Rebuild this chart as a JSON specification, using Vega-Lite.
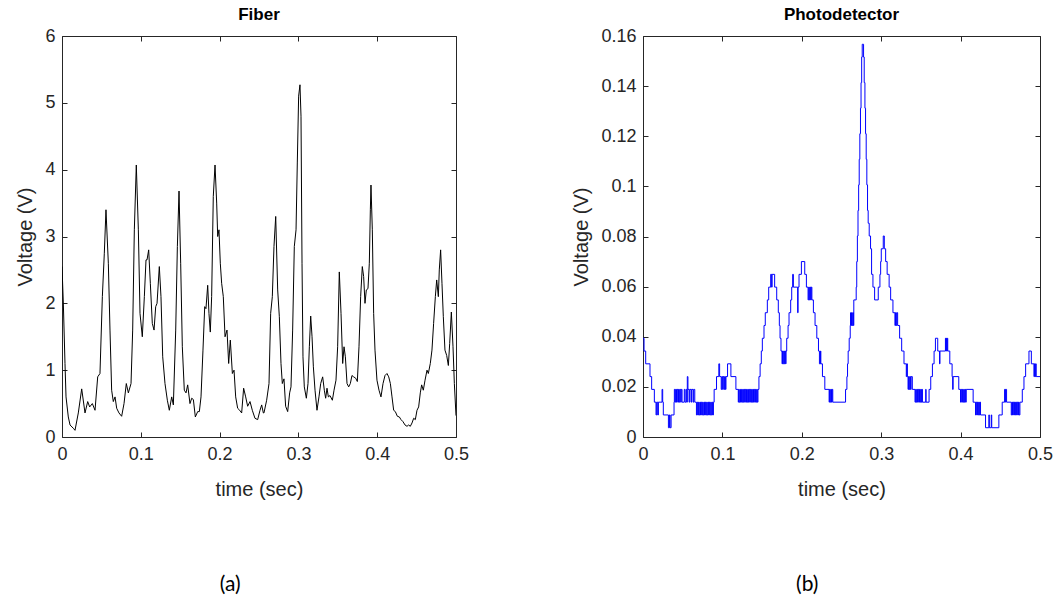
{
  "$schema": "https://vega.github.io/schema/vega-lite/v6.json",
  "background": "white",
  "padding": {"left": 15, "top": 6, "right": 5, "bottom": 5},
  "spacing": 102,
  "config": {
    "view": {"stroke": null},
    "axis": {
      "grid": false,
      "domainColor": "#262626",
      "tickColor": "#262626",
      "labelColor": "#262626",
      "titleColor": "#262626",
      "labelFont": "Liberation Sans",
      "titleFont": "Liberation Sans",
      "labelFontSize": 18,
      "titleFontSize": 20,
      "titleFontWeight": "normal",
      "tickSize": -5,
      "labelPadding": 12,
      "labelFlush": false,
      "labelOverlap": false
    },
    "title": {"font": "Liberation Sans", "fontSize": 16, "fontWeight": "bold", "color": "#000000"}
  },
  "datasets": {
    "fiber": [
      {"t":0,"v":2.55},{"t":0.0017,"v":2.0},{"t":0.0038,"v":1.1},{"t":0.0051,"v":0.6},{"t":0.008,"v":0.3},{"t":0.0102,"v":0.18},{"t":0.0144,"v":0.13},{"t":0.0165,"v":0.1},{"t":0.0207,"v":0.36},{"t":0.025,"v":0.72},{"t":0.0292,"v":0.36},{"t":0.0326,"v":0.53},{"t":0.0351,"v":0.45},{"t":0.0385,"v":0.5},{"t":0.0419,"v":0.4},{"t":0.0453,"v":0.9},{"t":0.0482,"v":0.95},{"t":0.0512,"v":2.1},{"t":0.0537,"v":2.75},{"t":0.0558,"v":3.4},{"t":0.0588,"v":2.6},{"t":0.0609,"v":1.6},{"t":0.063,"v":0.7},{"t":0.0651,"v":0.53},{"t":0.0673,"v":0.6},{"t":0.0694,"v":0.43},{"t":0.0723,"v":0.36},{"t":0.0757,"v":0.31},{"t":0.0787,"v":0.5},{"t":0.0816,"v":0.8},{"t":0.0842,"v":0.66},{"t":0.0876,"v":0.8},{"t":0.0897,"v":1.6},{"t":0.0918,"v":3.1},{"t":0.0943,"v":4.07},{"t":0.0969,"v":3.1},{"t":0.099,"v":1.85},{"t":0.1019,"v":1.5},{"t":0.1045,"v":2.1},{"t":0.1066,"v":2.65},{"t":0.1079,"v":2.65},{"t":0.11,"v":2.8},{"t":0.1121,"v":2.3},{"t":0.1146,"v":1.7},{"t":0.1168,"v":1.6},{"t":0.1189,"v":1.95},{"t":0.1206,"v":2.0},{"t":0.1235,"v":2.55},{"t":0.1256,"v":2.1},{"t":0.1278,"v":1.2},{"t":0.1307,"v":0.8},{"t":0.1337,"v":0.55},{"t":0.1362,"v":0.4},{"t":0.1392,"v":0.6},{"t":0.1413,"v":0.48},{"t":0.1443,"v":1.6},{"t":0.1464,"v":2.85},{"t":0.1485,"v":3.68},{"t":0.1506,"v":2.6},{"t":0.1527,"v":1.35},{"t":0.1552,"v":0.7},{"t":0.1574,"v":0.66},{"t":0.1595,"v":0.78},{"t":0.1624,"v":0.5},{"t":0.1646,"v":0.58},{"t":0.1667,"v":0.56},{"t":0.1692,"v":0.3},{"t":0.1722,"v":0.38},{"t":0.1743,"v":0.38},{"t":0.1764,"v":0.6},{"t":0.1789,"v":1.3},{"t":0.1811,"v":1.95},{"t":0.1827,"v":1.92},{"t":0.1849,"v":2.27},{"t":0.1865,"v":1.85},{"t":0.1882,"v":1.57},{"t":0.1899,"v":2.1},{"t":0.192,"v":3.6},{"t":0.1942,"v":4.07},{"t":0.1963,"v":3.5},{"t":0.1976,"v":3.0},{"t":0.1992,"v":3.1},{"t":0.2009,"v":2.6},{"t":0.2026,"v":2.3},{"t":0.2047,"v":2.1},{"t":0.2069,"v":1.5},{"t":0.2094,"v":1.6},{"t":0.2115,"v":1.1},{"t":0.2136,"v":1.45},{"t":0.2162,"v":0.95},{"t":0.2183,"v":1.0},{"t":0.2204,"v":0.6},{"t":0.2229,"v":0.43},{"t":0.2255,"v":0.4},{"t":0.228,"v":0.36},{"t":0.2305,"v":0.73},{"t":0.2331,"v":0.6},{"t":0.2356,"v":0.46},{"t":0.2386,"v":0.53},{"t":0.2415,"v":0.4},{"t":0.2449,"v":0.28},{"t":0.2483,"v":0.26},{"t":0.2513,"v":0.4},{"t":0.2534,"v":0.48},{"t":0.2555,"v":0.36},{"t":0.2563,"v":0.36},{"t":0.2597,"v":0.55},{"t":0.2627,"v":0.8},{"t":0.2648,"v":1.85},{"t":0.2669,"v":2.1},{"t":0.269,"v":2.85},{"t":0.2712,"v":3.3},{"t":0.2737,"v":2.2},{"t":0.2758,"v":1.8},{"t":0.2779,"v":1.1},{"t":0.2796,"v":0.8},{"t":0.2817,"v":0.87},{"t":0.2838,"v":0.46},{"t":0.2864,"v":0.38},{"t":0.2889,"v":0.66},{"t":0.2906,"v":0.75},{"t":0.2927,"v":1.6},{"t":0.2948,"v":2.85},{"t":0.297,"v":3.1},{"t":0.2986,"v":4.1},{"t":0.3003,"v":5.1},{"t":0.302,"v":5.27},{"t":0.3033,"v":4.8},{"t":0.3046,"v":2.6},{"t":0.3058,"v":1.2},{"t":0.3075,"v":0.75},{"t":0.3101,"v":0.58},{"t":0.3122,"v":0.8},{"t":0.3139,"v":1.35},{"t":0.3156,"v":1.81},{"t":0.3173,"v":1.5},{"t":0.319,"v":1.05},{"t":0.3211,"v":0.7},{"t":0.3236,"v":0.4},{"t":0.3261,"v":0.6},{"t":0.3283,"v":0.8},{"t":0.3308,"v":0.9},{"t":0.3329,"v":0.7},{"t":0.3346,"v":0.58},{"t":0.3363,"v":0.73},{"t":0.338,"v":0.6},{"t":0.3401,"v":0.62},{"t":0.3431,"v":0.55},{"t":0.3452,"v":0.7},{"t":0.3477,"v":0.85},{"t":0.3498,"v":1.35},{"t":0.3519,"v":2.47},{"t":0.3541,"v":1.85},{"t":0.3562,"v":1.1},{"t":0.3579,"v":1.35},{"t":0.3596,"v":1.2},{"t":0.3617,"v":0.8},{"t":0.3638,"v":0.75},{"t":0.3659,"v":0.8},{"t":0.368,"v":0.92},{"t":0.3701,"v":0.9},{"t":0.3727,"v":0.88},{"t":0.3748,"v":0.83},{"t":0.3769,"v":1.35},{"t":0.379,"v":2.1},{"t":0.3811,"v":2.55},{"t":0.3828,"v":2.4},{"t":0.3845,"v":2.0},{"t":0.3862,"v":2.2},{"t":0.3883,"v":2.22},{"t":0.39,"v":2.6},{"t":0.3913,"v":3.4},{"t":0.3921,"v":3.77},{"t":0.3938,"v":3.1},{"t":0.3955,"v":1.85},{"t":0.3972,"v":1.3},{"t":0.3997,"v":0.85},{"t":0.4023,"v":0.7},{"t":0.4048,"v":0.6},{"t":0.4074,"v":0.8},{"t":0.4099,"v":0.92},{"t":0.4124,"v":0.95},{"t":0.4146,"v":0.9},{"t":0.4167,"v":0.8},{"t":0.4188,"v":0.6},{"t":0.4209,"v":0.4},{"t":0.423,"v":0.38},{"t":0.4256,"v":0.31},{"t":0.4281,"v":0.3},{"t":0.4302,"v":0.26},{"t":0.4327,"v":0.23},{"t":0.4353,"v":0.18},{"t":0.4378,"v":0.16},{"t":0.4399,"v":0.18},{"t":0.442,"v":0.16},{"t":0.4442,"v":0.21},{"t":0.4463,"v":0.28},{"t":0.4484,"v":0.26},{"t":0.4505,"v":0.4},{"t":0.4526,"v":0.45},{"t":0.4547,"v":0.66},{"t":0.4564,"v":0.78},{"t":0.4585,"v":0.7},{"t":0.4607,"v":0.85},{"t":0.4632,"v":1.0},{"t":0.4649,"v":0.95},{"t":0.4674,"v":1.1},{"t":0.4695,"v":1.3},{"t":0.4716,"v":1.7},{"t":0.4738,"v":2.1},{"t":0.4755,"v":2.35},{"t":0.4776,"v":2.1},{"t":0.4788,"v":2.5},{"t":0.4805,"v":2.8},{"t":0.4822,"v":2.3},{"t":0.4839,"v":1.8},{"t":0.486,"v":1.3},{"t":0.4882,"v":1.22},{"t":0.4903,"v":1.07},{"t":0.492,"v":1.4},{"t":0.4941,"v":1.87},{"t":0.4962,"v":1.35},{"t":0.4979,"v":0.8},{"t":0.5,"v":0.32}
    ],
    "pd": [
      {"t":0,"v":0.0394},{"t":0.0013,"v":0.0343},{"t":0.0034,"v":0.0292},{"t":0.0088,"v":0.0241},{"t":0.0109,"v":0.019},{"t":0.0143,"v":0.0139},{"t":0.0164,"v":0.0088},{"t":0.0172,"v":0.0139},{"t":0.0185,"v":0.0088},{"t":0.0194,"v":0.0139},{"t":0.024,"v":0.019},{"t":0.0248,"v":0.0139},{"t":0.0256,"v":0.0088},{"t":0.032,"v":0.0037},{"t":0.0333,"v":0.0088},{"t":0.0341,"v":0.0037},{"t":0.0354,"v":0.0088},{"t":0.0391,"v":0.0139},{"t":0.0395,"v":0.019},{"t":0.0405,"v":0.0139},{"t":0.0412,"v":0.019},{"t":0.0422,"v":0.0139},{"t":0.043,"v":0.019},{"t":0.044,"v":0.0139},{"t":0.0447,"v":0.019},{"t":0.0457,"v":0.0139},{"t":0.0465,"v":0.019},{"t":0.0475,"v":0.0139},{"t":0.0482,"v":0.019},{"t":0.0492,"v":0.0139},{"t":0.052,"v":0.019},{"t":0.053,"v":0.0139},{"t":0.0545,"v":0.019},{"t":0.0553,"v":0.0139},{"t":0.0558,"v":0.0241},{"t":0.0566,"v":0.019},{"t":0.058,"v":0.0139},{"t":0.0588,"v":0.019},{"t":0.0605,"v":0.0139},{"t":0.0612,"v":0.019},{"t":0.063,"v":0.0139},{"t":0.0638,"v":0.019},{"t":0.0652,"v":0.0139},{"t":0.0673,"v":0.0088},{"t":0.0683,"v":0.0139},{"t":0.069,"v":0.0088},{"t":0.07,"v":0.0139},{"t":0.0707,"v":0.0088},{"t":0.0717,"v":0.0139},{"t":0.0724,"v":0.0088},{"t":0.0734,"v":0.0139},{"t":0.0741,"v":0.0088},{"t":0.0751,"v":0.0139},{"t":0.0758,"v":0.0088},{"t":0.0768,"v":0.0139},{"t":0.0775,"v":0.0088},{"t":0.0785,"v":0.0139},{"t":0.0792,"v":0.0088},{"t":0.0802,"v":0.0139},{"t":0.0809,"v":0.0088},{"t":0.0819,"v":0.0139},{"t":0.0826,"v":0.0088},{"t":0.0836,"v":0.0139},{"t":0.0843,"v":0.0088},{"t":0.0853,"v":0.0139},{"t":0.086,"v":0.0088},{"t":0.087,"v":0.0139},{"t":0.0877,"v":0.0088},{"t":0.0887,"v":0.0139},{"t":0.0896,"v":0.019},{"t":0.0926,"v":0.0241},{"t":0.0955,"v":0.0292},{"t":0.0965,"v":0.0241},{"t":0.0985,"v":0.019},{"t":0.0993,"v":0.0241},{"t":0.1003,"v":0.019},{"t":0.101,"v":0.0241},{"t":0.102,"v":0.019},{"t":0.1028,"v":0.0241},{"t":0.1038,"v":0.019},{"t":0.1045,"v":0.0241},{"t":0.1065,"v":0.0292},{"t":0.1107,"v":0.0241},{"t":0.117,"v":0.019},{"t":0.12,"v":0.0139},{"t":0.1205,"v":0.019},{"t":0.1212,"v":0.0139},{"t":0.1222,"v":0.019},{"t":0.1228,"v":0.0139},{"t":0.124,"v":0.019},{"t":0.1248,"v":0.0139},{"t":0.1256,"v":0.019},{"t":0.1264,"v":0.0139},{"t":0.1272,"v":0.019},{"t":0.128,"v":0.0139},{"t":0.1288,"v":0.019},{"t":0.1296,"v":0.0139},{"t":0.1304,"v":0.019},{"t":0.1312,"v":0.0139},{"t":0.132,"v":0.019},{"t":0.1328,"v":0.0139},{"t":0.1336,"v":0.019},{"t":0.1344,"v":0.0139},{"t":0.1352,"v":0.019},{"t":0.136,"v":0.0139},{"t":0.1368,"v":0.019},{"t":0.1376,"v":0.0139},{"t":0.1384,"v":0.019},{"t":0.1392,"v":0.0139},{"t":0.14,"v":0.019},{"t":0.1408,"v":0.0139},{"t":0.1416,"v":0.019},{"t":0.1424,"v":0.0139},{"t":0.1432,"v":0.019},{"t":0.144,"v":0.0139},{"t":0.1448,"v":0.019},{"t":0.146,"v":0.0241},{"t":0.1475,"v":0.0292},{"t":0.149,"v":0.0343},{"t":0.1503,"v":0.0394},{"t":0.1524,"v":0.0445},{"t":0.154,"v":0.0496},{"t":0.1566,"v":0.0547},{"t":0.1583,"v":0.0598},{"t":0.1608,"v":0.0649},{"t":0.162,"v":0.0598},{"t":0.1626,"v":0.0649},{"t":0.1658,"v":0.0598},{"t":0.1684,"v":0.0547},{"t":0.1704,"v":0.0496},{"t":0.1717,"v":0.0445},{"t":0.1726,"v":0.0394},{"t":0.1738,"v":0.0343},{"t":0.1751,"v":0.0292},{"t":0.1757,"v":0.0343},{"t":0.1765,"v":0.0292},{"t":0.1773,"v":0.0343},{"t":0.1781,"v":0.0292},{"t":0.1789,"v":0.0343},{"t":0.1797,"v":0.0292},{"t":0.1801,"v":0.0343},{"t":0.181,"v":0.0394},{"t":0.1827,"v":0.0445},{"t":0.1839,"v":0.0496},{"t":0.186,"v":0.0547},{"t":0.1873,"v":0.0598},{"t":0.1885,"v":0.0649},{"t":0.1894,"v":0.0598},{"t":0.1948,"v":0.0496},{"t":0.1953,"v":0.0598},{"t":0.1965,"v":0.0649},{"t":0.1995,"v":0.07},{"t":0.2037,"v":0.0649},{"t":0.2058,"v":0.0598},{"t":0.2079,"v":0.0547},{"t":0.2087,"v":0.0598},{"t":0.2095,"v":0.0547},{"t":0.2103,"v":0.0598},{"t":0.2111,"v":0.0547},{"t":0.2119,"v":0.0598},{"t":0.2127,"v":0.0547},{"t":0.2146,"v":0.0496},{"t":0.2167,"v":0.0445},{"t":0.2189,"v":0.0394},{"t":0.221,"v":0.0343},{"t":0.2222,"v":0.0292},{"t":0.2235,"v":0.0343},{"t":0.224,"v":0.0292},{"t":0.226,"v":0.0241},{"t":0.229,"v":0.019},{"t":0.2344,"v":0.0139},{"t":0.235,"v":0.019},{"t":0.2358,"v":0.0139},{"t":0.2366,"v":0.019},{"t":0.2374,"v":0.0139},{"t":0.2382,"v":0.019},{"t":0.239,"v":0.0139},{"t":0.2551,"v":0.019},{"t":0.2568,"v":0.0241},{"t":0.2576,"v":0.0292},{"t":0.2584,"v":0.0343},{"t":0.2597,"v":0.0394},{"t":0.261,"v":0.0445},{"t":0.2614,"v":0.0496},{"t":0.2618,"v":0.0445},{"t":0.2626,"v":0.0496},{"t":0.2634,"v":0.0445},{"t":0.2642,"v":0.0496},{"t":0.265,"v":0.0445},{"t":0.2655,"v":0.0547},{"t":0.2685,"v":0.0598},{"t":0.2692,"v":0.07},{"t":0.27,"v":0.0802},{"t":0.2708,"v":0.0904},{"t":0.2716,"v":0.1006},{"t":0.2723,"v":0.1108},{"t":0.2731,"v":0.121},{"t":0.2739,"v":0.1312},{"t":0.2746,"v":0.1414},{"t":0.2754,"v":0.1516},{"t":0.2761,"v":0.1567},{"t":0.2778,"v":0.1516},{"t":0.2786,"v":0.1414},{"t":0.2795,"v":0.1312},{"t":0.2803,"v":0.121},{"t":0.2811,"v":0.1108},{"t":0.2819,"v":0.1006},{"t":0.2828,"v":0.0904},{"t":0.2836,"v":0.0853},{"t":0.2849,"v":0.0802},{"t":0.2866,"v":0.0751},{"t":0.2879,"v":0.0649},{"t":0.2896,"v":0.0598},{"t":0.2917,"v":0.0547},{"t":0.2963,"v":0.0598},{"t":0.2984,"v":0.0649},{"t":0.2993,"v":0.07},{"t":0.3001,"v":0.0751},{"t":0.3026,"v":0.0802},{"t":0.3039,"v":0.0751},{"t":0.3056,"v":0.07},{"t":0.3075,"v":0.0649},{"t":0.31,"v":0.0598},{"t":0.3119,"v":0.0547},{"t":0.3148,"v":0.0496},{"t":0.3173,"v":0.0445},{"t":0.318,"v":0.0496},{"t":0.3188,"v":0.0445},{"t":0.3196,"v":0.0496},{"t":0.3207,"v":0.0445},{"t":0.3232,"v":0.0394},{"t":0.3258,"v":0.0343},{"t":0.3287,"v":0.0292},{"t":0.3316,"v":0.0241},{"t":0.3322,"v":0.0292},{"t":0.333,"v":0.0241},{"t":0.3338,"v":0.019},{"t":0.3345,"v":0.0241},{"t":0.3353,"v":0.019},{"t":0.3361,"v":0.0241},{"t":0.3369,"v":0.019},{"t":0.3377,"v":0.0241},{"t":0.3392,"v":0.019},{"t":0.3426,"v":0.0139},{"t":0.3434,"v":0.019},{"t":0.3442,"v":0.0139},{"t":0.345,"v":0.019},{"t":0.3458,"v":0.0139},{"t":0.3466,"v":0.019},{"t":0.3474,"v":0.0139},{"t":0.3482,"v":0.019},{"t":0.349,"v":0.0139},{"t":0.3498,"v":0.019},{"t":0.3506,"v":0.0139},{"t":0.3514,"v":0.019},{"t":0.3519,"v":0.0139},{"t":0.3561,"v":0.019},{"t":0.3565,"v":0.0139},{"t":0.3603,"v":0.019},{"t":0.3624,"v":0.0241},{"t":0.3645,"v":0.0292},{"t":0.3666,"v":0.0343},{"t":0.3683,"v":0.0394},{"t":0.3712,"v":0.0343},{"t":0.3735,"v":0.0292},{"t":0.374,"v":0.0343},{"t":0.3809,"v":0.0394},{"t":0.3815,"v":0.0343},{"t":0.382,"v":0.0394},{"t":0.3826,"v":0.0343},{"t":0.3832,"v":0.0394},{"t":0.3838,"v":0.0343},{"t":0.3864,"v":0.0292},{"t":0.3893,"v":0.0241},{"t":0.39,"v":0.019},{"t":0.3906,"v":0.0241},{"t":0.3977,"v":0.019},{"t":0.3999,"v":0.0139},{"t":0.4007,"v":0.019},{"t":0.4015,"v":0.0139},{"t":0.4023,"v":0.019},{"t":0.4031,"v":0.0139},{"t":0.4039,"v":0.019},{"t":0.4047,"v":0.0139},{"t":0.4055,"v":0.019},{"t":0.4063,"v":0.0139},{"t":0.4071,"v":0.019},{"t":0.4158,"v":0.0139},{"t":0.4188,"v":0.0088},{"t":0.4196,"v":0.0139},{"t":0.4204,"v":0.0088},{"t":0.4212,"v":0.0139},{"t":0.422,"v":0.0088},{"t":0.4228,"v":0.0139},{"t":0.4236,"v":0.0088},{"t":0.4244,"v":0.0139},{"t":0.4251,"v":0.0088},{"t":0.4314,"v":0.0037},{"t":0.4356,"v":0.0088},{"t":0.4362,"v":0.0037},{"t":0.4386,"v":0.0088},{"t":0.4392,"v":0.0037},{"t":0.4482,"v":0.0088},{"t":0.4524,"v":0.0139},{"t":0.4554,"v":0.019},{"t":0.4562,"v":0.0139},{"t":0.4567,"v":0.019},{"t":0.4579,"v":0.0139},{"t":0.4638,"v":0.0088},{"t":0.4646,"v":0.0139},{"t":0.4654,"v":0.0088},{"t":0.4662,"v":0.0139},{"t":0.467,"v":0.0088},{"t":0.4678,"v":0.0139},{"t":0.4686,"v":0.0088},{"t":0.4693,"v":0.0139},{"t":0.4705,"v":0.0088},{"t":0.4713,"v":0.0139},{"t":0.4721,"v":0.0088},{"t":0.4729,"v":0.0139},{"t":0.4737,"v":0.0088},{"t":0.4747,"v":0.0139},{"t":0.4777,"v":0.019},{"t":0.4798,"v":0.0241},{"t":0.4819,"v":0.0292},{"t":0.4861,"v":0.0343},{"t":0.4891,"v":0.0292},{"t":0.4924,"v":0.0241},{"t":0.493,"v":0.0292},{"t":0.4938,"v":0.0241},{"t":0.4945,"v":0.0292},{"t":0.4952,"v":0.0241},{"t":0.5,"v":0.0241}
    ]
  },
  "hconcat": [
    {
      "title": {"text": "(a)", "orient": "bottom", "anchor": "middle", "dx": -12, "font": "Lato", "fontSize": 21, "fontWeight": "normal", "color": "#000000", "offset": 75},
      "vconcat": [
        {
          "title": {"text": "Fiber", "offset": 3, "fontSize": 17},
          "width": 394,
          "height": 401,
          "data": {"name": "fiber"},
          "resolve": {"axis": {"x": "independent", "y": "independent"}},
          "layer": [
            {
              "mark": {"type": "line", "color": "#000000", "strokeWidth": 1, "clip": true},
              "encoding": {
                "x": {"field": "t", "type": "quantitative", "scale": {"domain": [0, 0.5], "nice": false},
                      "axis": {"title": "time (sec)", "values": [0, 0.1, 0.2, 0.3, 0.4, 0.5], "format": "~g", "titlePadding": 16, "labelPadding": 13}},
                "y": {"field": "v", "type": "quantitative", "scale": {"domain": [0, 6], "nice": false},
                      "axis": {"title": "Voltage (V)", "values": [0, 1, 2, 3, 4, 5, 6], "titlePadding": 9}}
              }
            },
            {
              "mark": {"type": "line", "opacity": 0, "clip": true},
              "encoding": {
                "x": {"field": "t", "type": "quantitative", "axis": {"orient": "top", "title": null, "labels": false, "values": [0, 0.1, 0.2, 0.3, 0.4, 0.5]}},
                "y": {"field": "v", "type": "quantitative", "axis": {"orient": "right", "title": null, "labels": false, "values": [0, 1, 2, 3, 4, 5, 6]}}
              }
            }
          ]
        }
      ]
    },
    {
      "title": {"text": "(b)", "orient": "bottom", "anchor": "middle", "dx": -5, "font": "Lato", "fontSize": 21, "fontWeight": "normal", "color": "#000000", "offset": 75},
      "vconcat": [
        {
          "title": {"text": "Photodetector", "offset": 3, "fontSize": 17},
          "width": 397,
          "height": 401,
          "data": {"name": "pd"},
          "resolve": {"axis": {"x": "independent", "y": "independent"}},
          "layer": [
            {
              "mark": {"type": "line", "color": "#0000FF", "strokeWidth": 1, "interpolate": "step-after", "clip": true},
              "encoding": {
                "x": {"field": "t", "type": "quantitative", "scale": {"domain": [0, 0.5], "nice": false},
                      "axis": {"title": "time (sec)", "values": [0, 0.1, 0.2, 0.3, 0.4, 0.5], "format": "~g", "titlePadding": 16, "labelPadding": 13}},
                "y": {"field": "v", "type": "quantitative", "scale": {"domain": [0, 0.16], "nice": false},
                      "axis": {"title": "Voltage (V)", "values": [0, 0.02, 0.04, 0.06, 0.08, 0.1, 0.12, 0.14, 0.16], "format": "~g", "titlePadding": 9}}
              }
            },
            {
              "mark": {"type": "line", "opacity": 0, "clip": true},
              "encoding": {
                "x": {"field": "t", "type": "quantitative", "axis": {"orient": "top", "title": null, "labels": false, "values": [0, 0.1, 0.2, 0.3, 0.4, 0.5]}},
                "y": {"field": "v", "type": "quantitative", "axis": {"orient": "right", "title": null, "labels": false, "values": [0, 0.02, 0.04, 0.06, 0.08, 0.1, 0.12, 0.14, 0.16]}}
              }
            }
          ]
        }
      ]
    }
  ]
}
